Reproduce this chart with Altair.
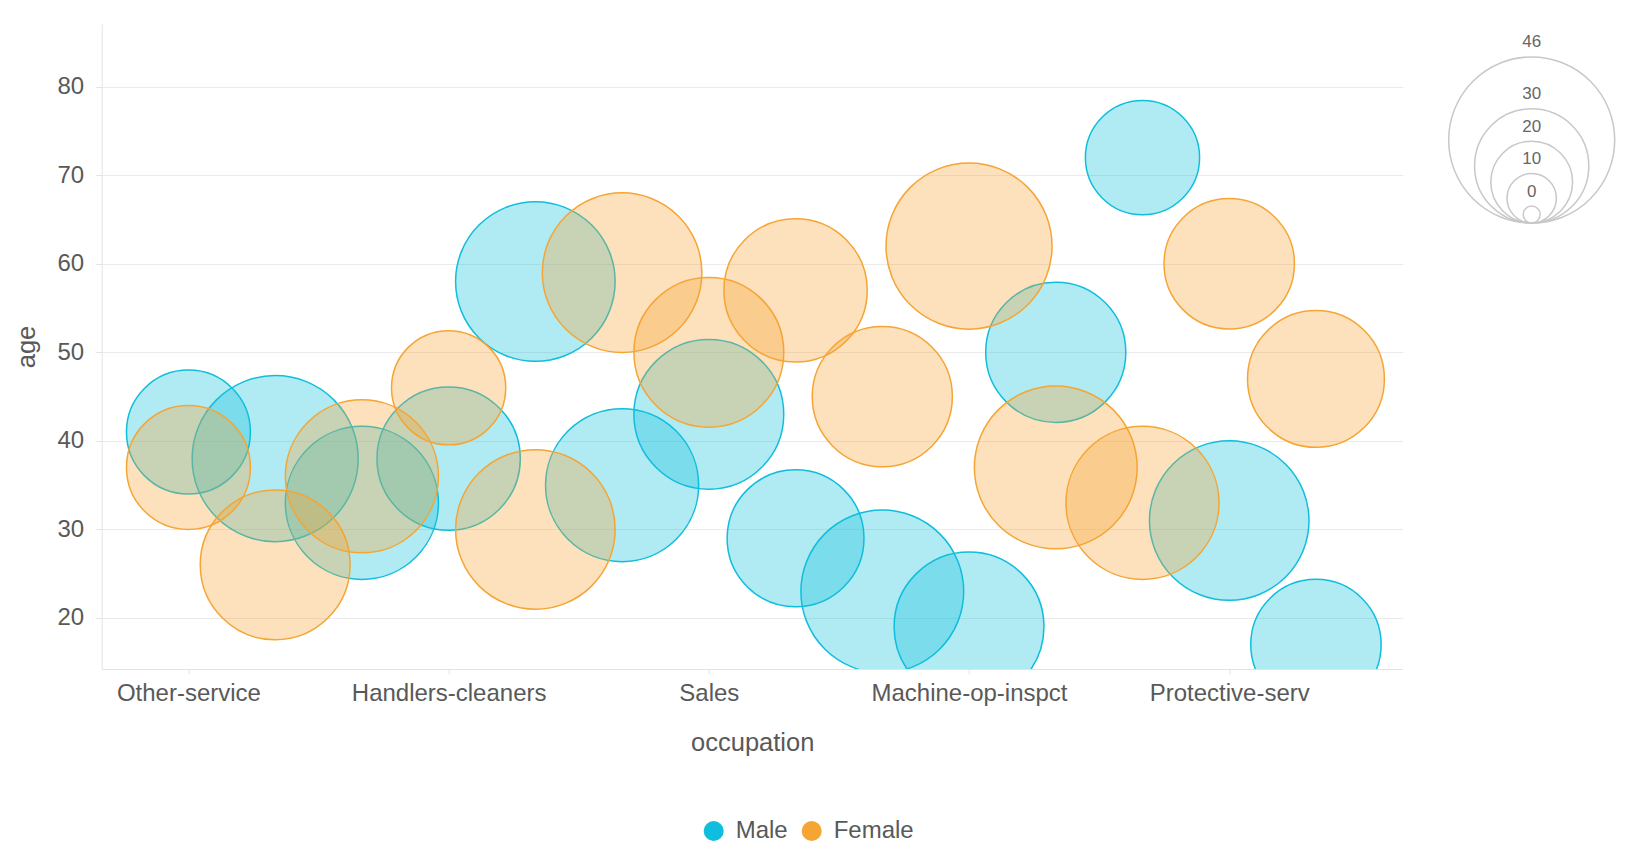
import altair as alt
import pandas as pd

# ---------------- data ----------------
occupations = [
    "Other-service", "Adm-clerical", "Exec-managerial", "Handlers-cleaners",
    "Prof-specialty", "Craft-repair", "Sales", "Transport-moving",
    "Farming-fishing", "Machine-op-inspct", "Tech-support", "Priv-house-serv",
    "Protective-serv", "Armed-Forces",
]
shown_labels = ["Other-service", "Handlers-cleaners", "Sales", "Machine-op-inspct", "Protective-serv"]
genders = ["Male", "Female"]
male_age = [41, 38, 33, 38, 58, 35, 43, 29, 23, 19, 50, 72, 31, 17]
female_age = [37, 26, 36, 46, 30, 59, 50, 57, 45, 62, 37, 33, 60, 47]
male_value = [33, 46, 42, 39, 44, 42, 41, 37, 45, 41, 38, 30, 44, 35]
female_value = [33, 41, 42, 30, 44, 44, 41, 39, 38, 46, 45, 42, 35, 37]
y_ticks = [20, 30, 40, 50, 60, 70, 80]
size_legend_values = [46, 30, 20, 10, 0]

rows = []
for occ, a, v in zip(occupations, male_age, male_value):
    rows.append({"occupation": occ, "gender": "Male", "age": a, "value": v})
for occ, a, v in zip(occupations, female_age, female_value):
    rows.append({"occupation": occ, "gender": "Female", "age": a, "value": v})
df = pd.DataFrame(rows)
leg_df = pd.DataFrame({"value": size_legend_values})

# ---------------- styling / layout ----------------
FONT = "Liberation Sans"
TXT = "#595959"
MALE = "#0FBEDC"
FEMALE = "#F5A533"
W, H = 1301, 645

# bubble radius grows linearly with value: r = R0 + K * value
R0, K = 8.5, 1.62
VMAX = 46
U0 = R0 / K
D_MAX = 2 * (R0 + K * VMAX)
size_scale = alt.Scale(type="pow", exponent=2, domain=[0, VMAX + U0], range=[0, D_MAX ** 2])
color_scale = alt.Scale(domain=genders, range=[MALE, FEMALE])

LEG_CX = 1430
LEG_BOTTOM = 199

x_enc = alt.X(
    "occupation:N",
    scale=alt.Scale(type="point", padding=1, domain=occupations),
    axis=alt.Axis(
        values=shown_labels, title="occupation", grid=False, labelAngle=0,
        tickSize=5, labelPadding=8, titlePadding=25, labelFontSize=24,
        titleFontSize=25.5, labelOverlap=False, labelLimit=400,
    ),
)
y_enc = alt.Y(
    "age:Q",
    scale=alt.Scale(domain=[14.24, 87.08], nice=False, zero=False),
    axis=alt.Axis(
        values=y_ticks, title="age", grid=True, tickSize=6, labelPadding=12,
        titlePadding=18, labelFontSize=24, titleFontSize=25.5,
    ),
)

# legend-only layer (no marks drawn): gives solid legend symbols
color_legend = (
    alt.Chart(df)
    .transform_filter("false")
    .mark_circle(opacity=1, fillOpacity=1)
    .encode(
        color=alt.Color(
            "gender:N", scale=color_scale,
            legend=alt.Legend(
                title=None, orient="none", legendX=600, legendY=795,
                direction="horizontal", symbolType="circle", symbolSize=400,
                symbolStrokeWidth=0, symbolOpacity=1, labelFont=FONT,
                labelFontSize=24, labelColor=TXT, labelOffset=10,
                columnPadding=11, labelLimit=300,
            ),
        )
    )
)

bubbles = (
    alt.Chart(df)
    .transform_calculate(u=f"datum.value + {U0}")
    .mark_circle(clip=True, opacity=1, fillOpacity=0.33, strokeOpacity=1, strokeWidth=1.5)
    .encode(
        x=x_enc,
        y=y_enc,
        color=alt.Color("gender:N", scale=color_scale),
        stroke=alt.Stroke("gender:N", scale=color_scale, legend=None),
        size=alt.Size("u:Q", scale=size_scale, legend=None),
    )
)

size_leg_base = alt.Chart(leg_df).transform_calculate(
    u=f"datum.value + {U0}",
    r=f"{R0} + {K} * datum.value",
).transform_calculate(
    cy=f"{LEG_BOTTOM} - datum.r",
    ty=f"{LEG_BOTTOM} - 2 * datum.r - 14.5",
    label="'' + datum.value",
)

size_circles = size_leg_base.mark_circle(
    filled=False, color="#c8c8c8", strokeWidth=1.5, opacity=1, clip=False
).encode(
    x=alt.value(LEG_CX),
    y=alt.Y("cy:Q", scale=None, axis=None),
    size=alt.Size("u:Q", scale=size_scale, legend=None),
)

size_labels = size_leg_base.mark_text(
    font=FONT, fontSize=17, color="#666666", align="center", baseline="middle", clip=False
).encode(
    x=alt.value(LEG_CX),
    y=alt.Y("ty:Q", scale=None, axis=None),
    text="label:N",
)

chart = (
    alt.layer(color_legend, bubbles, size_circles, size_labels)
    .properties(
        width=W,
        height=H,
        autosize=alt.AutoSizeParams(type="none"),
        padding={"left": 93.7, "top": 16, "right": 220, "bottom": 178},
    )
    .configure_view(stroke=None)
    .configure_axis(
        labelFont=FONT, titleFont=FONT, labelColor=TXT, titleColor=TXT,
        titleFontWeight="normal", domainColor="#e3e3e3", tickColor="#e3e3e3",
        gridColor="#ebebeb", domainWidth=1, tickWidth=1, gridWidth=1,
    )
)

chart.save("out.html", embed_options={"renderer": "svg", "actions": False})
